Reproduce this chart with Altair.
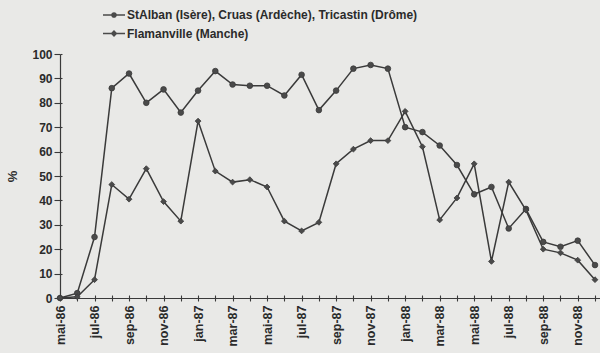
import altair as alt
import pandas as pd

months = ["mai-86", "jun-86", "jul-86", "aoû-86", "sep-86", "oct-86", "nov-86", "déc-86",
          "jan-87", "fév-87", "mar-87", "avr-87", "mai-87", "jun-87", "jul-87", "aoû-87",
          "sep-87", "oct-87", "nov-87", "déc-87",
          "jan-88", "fév-88", "mar-88", "avr-88", "mai-88", "jun-88", "jul-88", "aoû-88",
          "sep-88", "oct-88", "nov-88", "déc-88"]

series_a = "StAlban (Isère), Cruas (Ardèche), Tricastin (Drôme)"
series_b = "Flamanville (Manche)"

values_a = [0, 2, 25, 86, 92, 80, 85.5, 76,
            85, 93, 87.5, 87, 87, 83, 91.5, 77, 85, 94, 95.5, 94,
            70, 68, 62.5, 54.5, 42.5, 45.5, 28.5, 36.5, 23, 21, 23.5, 13.5]

values_b = [0, 0.5, 7.5, 46.5, 40.5, 53, 39.5, 31.5,
            72.5, 52, 47.5, 48.5, 45.5, 31.5, 27.5, 31, 55, 61, 64.5, 64.5,
            76.5, 62, 32, 41, 55, 15, 47.5, 36, 20, 18.5, 15.5, 7.5]

y_ticks = list(range(0, 101, 10))

rows = []
for i, m in enumerate(months):
    rows.append({"idx": i, "month": m, "series": series_a, "val": values_a[i]})
    rows.append({"idx": i, "month": m, "series": series_b, "val": values_b[i]})
df = pd.DataFrame(rows)

label_list = [m if i % 2 == 0 else "" for i, m in enumerate(months)]
label_expr = "[" + ",".join("'" + s + "'" for s in label_list) + "][datum.value]"

FONT = "Liberation Sans"
INK = "#2b2b2b"
LINE = "#3a3a3a"
MARK = "#4a4a4a"

xscale = alt.Scale(domain=[0, 31.29], nice=False, zero=False)
yscale = alt.Scale(domain=[0, 100], nice=False)

x_main = alt.X("idx:Q", scale=xscale, axis=alt.Axis(
    values=list(range(len(months))), labelExpr=label_expr, labelAngle=-90,
    tickSize=3, labelPadding=4, title=None, grid=False,
    domainColor=LINE, tickColor=LINE, domainWidth=1.2, tickWidth=1.1,
    labelFont=FONT, labelFontSize=12.5, labelFontWeight="bold", labelColor=INK,
    labelOverlap=False, labelBound=False, labelFlush=False))

y_main = alt.Y("val:Q", scale=yscale, axis=alt.Axis(
    values=y_ticks, tickSize=6, labelPadding=2, grid=False,
    title="%", titleFont=FONT, titleFontSize=13, titleFontWeight="bold", titleColor=INK,
    titlePadding=12, titleAngle=-90,
    domainColor=LINE, tickColor=LINE, domainWidth=1.2, tickWidth=1.1,
    labelFont=FONT, labelFontSize=12, labelFontWeight="bold", labelColor=INK))

x_inner = alt.X("idx:Q", scale=xscale, axis=alt.Axis(
    orient="top", offset=-244, values=list(range(len(months))), labels=False,
    domain=False, tickSize=3, tickColor=LINE, tickWidth=1.1, title=None, grid=False))

y_inner = alt.Y("val:Q", scale=yscale, axis=alt.Axis(
    orient="right", offset=-540, values=y_ticks, labels=False,
    domain=False, tickSize=2, tickColor=LINE, tickWidth=1.1, title=None, grid=False))

x_plain = alt.X("idx:Q", scale=xscale, axis=None)
y_plain = alt.Y("val:Q", scale=yscale, axis=None)

# legend glyphs: a short line with the marker in its middle (filled outlines)
path_a = ("M-2,-0.12L2,-0.12L2,0.12L-2,0.12Z"
          "M-0.52,0A0.52,0.52,0,1,1,0.52,0A0.52,0.52,0,1,1,-0.52,0Z")
path_b = ("M-2,-0.12L2,-0.12L2,0.12L-2,0.12Z"
          "M0,-0.62L0.62,0L0,0.62L-0.62,0Z")

legend = alt.Legend(
    orient="none", legendX=48, legendY=-45, title=None, direction="vertical",
    symbolSize=121, labelOffset=7, rowPadding=6.5, labelLimit=500,
    symbolFillColor=MARK, symbolStrokeColor=LINE, symbolStrokeWidth=0,
    symbolOpacity=1,
    labelFont=FONT, labelFontSize=12, labelFontWeight="bold", labelColor=INK)

lines = alt.Chart(df).mark_line(color=LINE, strokeWidth=1.5).encode(
    x=x_main, y=y_main, detail="series:N")

points_a = alt.Chart(df).transform_filter(
    alt.datum.series == series_a
).mark_point(filled=True, size=32, shape="circle", color=MARK,
             stroke=LINE, strokeWidth=0.8, opacity=1).encode(x=x_inner, y=y_inner)

points_b = alt.Chart(df).transform_filter(
    alt.datum.series == series_b
).mark_point(filled=True, size=34, shape="diamond", color=MARK,
             stroke=LINE, strokeWidth=0.8, opacity=1).encode(x=x_plain, y=y_plain)

legend_layer = alt.Chart(df).mark_point(filled=True, opacity=0, size=1, color=MARK).encode(
    x=x_plain, y=y_plain,
    shape=alt.Shape("series:N", scale=alt.Scale(domain=[series_a, series_b],
                                                range=[path_a, path_b]),
                    legend=legend))

chart = alt.layer(lines, points_a, points_b, legend_layer).resolve_axis(
    x="independent", y="independent").properties(
    width=540, height=244,
    background="#e9e9e7",
    padding={"left": 60, "top": 54, "right": 0, "bottom": 55},
    autosize=alt.AutoSizeParams(type="none"),
).configure_view(stroke=None)

chart.save("out.html", embed_options={"renderer": "svg", "actions": False})
